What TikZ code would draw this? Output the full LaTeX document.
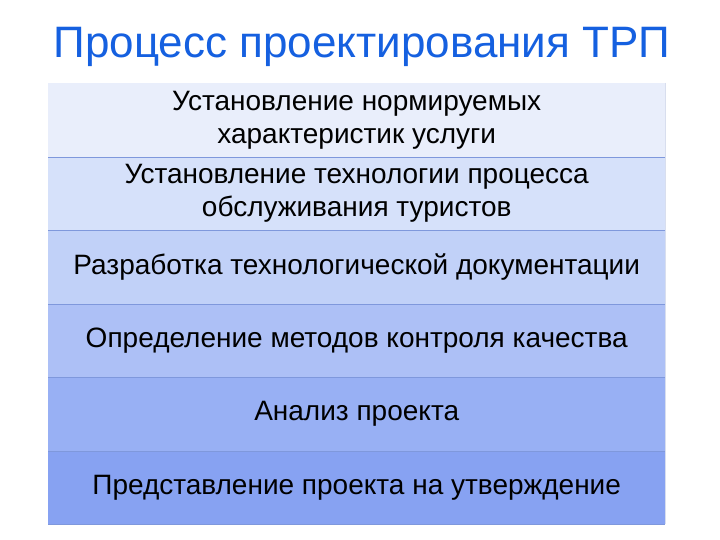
\documentclass[tikz,border=0pt]{standalone}
\usepackage{fontspec}
\setmainfont{Liberation Sans}
\definecolor{titleblue}{HTML}{1560E0}
\definecolor{bA}{HTML}{E9EEFB}
\definecolor{bB}{HTML}{D6E1FA}
\definecolor{bC}{HTML}{C1D1F8}
\definecolor{bD}{HTML}{ADC0F6}
\definecolor{bE}{HTML}{98B0F4}
\definecolor{bF}{HTML}{87A2F2}
\definecolor{sep}{HTML}{7F98DC}
\definecolor{edge}{HTML}{D8DEEE}
\tikzset{
  band/.style={rectangle, draw=none, minimum width=617pt, minimum height=73.5pt,
    inner sep=0pt, align=center, font=\fontsize{28}{33}\selectfont, text=black, anchor=north west},
  titletext/.style={font=\fontsize{44}{48}\selectfont, text=titleblue, inner sep=0pt},
  sepline/.style={draw=sep, line width=0.7pt}
}
\begin{document}
\begin{tikzpicture}[x=1pt,y=-1pt]
\useasboundingbox (0,0) rectangle (720,540);
\fill[white] (0,0) rectangle (720,540);
\node[titletext] (title) at (362,47) {Процесс проектирования ТРП};
\node[band, fill=bA] (b1) at (48,83) {Установление нормируемых\\характеристик услуги};
\node[band, fill=bB] (b2) at (48,156.5) {Установление технологии процесса\\обслуживания туристов};
\node[band, fill=bC] (b3) at (48,230) {Разработка технологической документации};
\node[band, fill=bD] (b4) at (48,303.5) {Определение методов контроля качества};
\node[band, fill=bE] (b5) at (48,377) {Анализ проекта};
\node[band, fill=bF] (b6) at (48,450.5) {Представление проекта на утверждение};
\draw[draw=edge, line width=0.5pt] (b1.north east) -- (b6.south east);
\draw[sepline] (b1.south west) -- (b1.south east);
\draw[sepline] (b2.south west) -- (b2.south east);
\draw[sepline] (b3.south west) -- (b3.south east);
\draw[sepline] (b4.south west) -- (b4.south east);
\draw[sepline] (b5.south west) -- (b5.south east);
\draw[sepline] (b6.south west) -- (b6.south east);
\end{tikzpicture}
\end{document}
